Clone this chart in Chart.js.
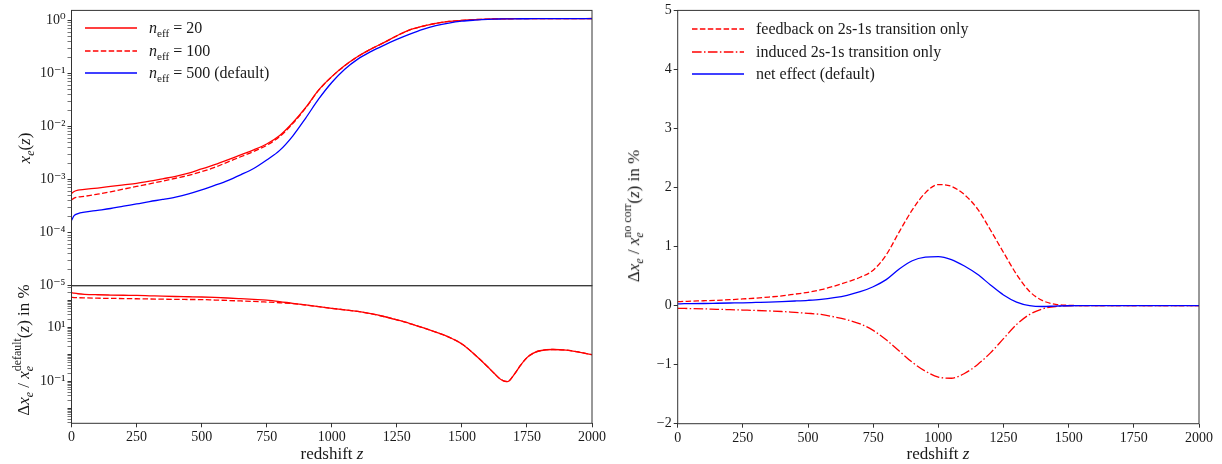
<!DOCTYPE html>
<html lang="en">
<head>
<meta charset="utf-8">
<title>Ionization fraction and 2s-1s corrections</title>
<script src="https://cdn.jsdelivr.net/npm/chart.js@4.4.1/dist/chart.umd.min.js"></script>
<style>
  body { margin: 0; background: #fff; }
  #figure { position: relative; width: 1222px; height: 464px; font-family: "Liberation Serif", "DejaVu Serif", serif; color: #1a1a1a; }
  #figure canvas { position: absolute; left: 0; top: 0; }
  .axis-title { position: absolute; font-size: 17px; line-height: 1; white-space: nowrap; }
  .axis-title.y { transform: translate(-50%, -50%) rotate(-90deg); }
  .axis-title.x { transform: translateX(-50%); }
  .legend { position: absolute; font-size: 16px; }
  .legend .row { display: flex; align-items: center; height: 22.3px; white-space: nowrap; }
  .legend svg { margin-right: 12px; flex: none; }
  sub, sup { font-size: 0.7em; line-height: 0; }
  .stk { display: inline-block; vertical-align: -0.3em; font-size: 0.7em; line-height: 1; }
  .stk span { display: block; }
</style>
</head>
<body>
<div id="figure">
  <canvas id="xe" width="1222" height="464"></canvas>
  <canvas id="dxe" width="1222" height="464"></canvas>
  <canvas id="corr" width="1222" height="464"></canvas>

  <div class="axis-title y" style="left:24px; top:148px;"><i>x<sub>e</sub></i>(<i>z</i>)</div>
  <div class="axis-title y" style="left:24px; top:350px;">Δ<i>x<sub>e</sub></i> / <i>x</i><span class="stk"><span>default</span><span><i>e</i></span></span>(<i>z</i>) in %</div>
  <div class="axis-title y" style="left:634px; top:216px;">Δ<i>x<sub>e</sub></i> / <i>x</i><span class="stk"><span>no corr</span><span><i>e</i></span></span>(<i>z</i>) in %</div>
  <div class="axis-title x" style="left:332px; top:445px;">redshift <i>z</i></div>
  <div class="axis-title x" style="left:938px; top:445px;">redshift <i>z</i></div>

  <div class="legend" style="left:85px; top:17.3px;">
    <div class="row"><svg width="52" height="6"><line x1="0" y1="3" x2="52" y2="3" stroke="#ff0000" stroke-width="1.3"/></svg><span><i>n</i><sub>eff</sub> = 20</span></div>
    <div class="row"><svg width="52" height="6"><line x1="0" y1="3" x2="52" y2="3" stroke="#ff0000" stroke-width="1.3" stroke-dasharray="5.5 2.4"/></svg><span><i>n</i><sub>eff</sub> = 100</span></div>
    <div class="row"><svg width="52" height="6"><line x1="0" y1="3" x2="52" y2="3" stroke="#0000ff" stroke-width="1.3"/></svg><span><i>n</i><sub>eff</sub> = 500 (default)</span></div>
  </div>
  <div class="legend" style="left:692px; top:18.2px;">
    <div class="row"><svg width="52" height="6"><line x1="0" y1="3" x2="52" y2="3" stroke="#ff0000" stroke-width="1.3" stroke-dasharray="5.5 2.4"/></svg><span>feedback on 2s-1s transition only</span></div>
    <div class="row"><svg width="52" height="6"><line x1="0" y1="3" x2="52" y2="3" stroke="#ff0000" stroke-width="1.3" stroke-dasharray="9.6 2.4 1.5 2.4"/></svg><span>induced 2s-1s transition only</span></div>
    <div class="row"><svg width="52" height="6"><line x1="0" y1="3" x2="52" y2="3" stroke="#0000ff" stroke-width="1.3"/></svg><span>net effect (default)</span></div>
  </div>
</div>

<script>
  // ==========================
  // DATA
  // ==========================
  const redshift = [0, 10, 25, 50, 100, 150, 200, 250, 300, 350, 400, 450, 500, 550, 600, 650, 700, 750, 800, 850,
    900, 950, 1000, 1050, 1100, 1150, 1200, 1250, 1300, 1350, 1400, 1450, 1500, 1550, 1600, 1625, 1650, 1675, 1700,
    1725, 1750, 1775, 1800, 1850, 1900, 1950, 2000];

  // top left: x_e(z)
  const xeNeff20 = [5.50e-4, 5.96e-4, 6.31e-4, 6.53e-4, 6.92e-4, 7.41e-4, 7.94e-4, 8.51e-4, 9.33e-4, 1.035e-3,
    1.148e-3, 1.318e-3, 1.585e-3, 1.905e-3, 2.344e-3, 2.92e-3, 3.63e-3, 4.68e-3, 6.76e-3, 1.175e-2, 2.29e-2,
    4.90e-2, 8.71e-2, 0.141, 0.209, 0.288, 0.380, 0.513, 0.661, 0.776, 0.881, 0.955, 1.0, 1.035, 1.059, 1.065,
    1.070, 1.073, 1.075, 1.077, 1.078, 1.079, 1.080, 1.081, 1.082, 1.083, 1.084];
  const xeNeff100 = [4.12e-4, 4.47e-4, 4.68e-4, 4.84e-4, 5.31e-4, 5.89e-4, 6.61e-4, 7.41e-4, 8.32e-4, 9.33e-4,
    1.059e-3, 1.202e-3, 1.413e-3, 1.698e-3, 2.138e-3, 2.69e-3, 3.39e-3, 4.42e-3, 6.46e-3, 1.135e-2, 2.24e-2,
    4.84e-2, 8.65e-2, 0.140, 0.208, 0.287, 0.379, 0.512, 0.660, 0.775, 0.880, 0.954, 0.999, 1.034, 1.058, 1.064,
    1.069, 1.072, 1.074, 1.076, 1.077, 1.078, 1.079, 1.080, 1.081, 1.082, 1.083];
  const xeDefault = [1.70e-4, 2.09e-4, 2.29e-4, 2.43e-4, 2.63e-4, 2.85e-4, 3.16e-4, 3.47e-4, 3.85e-4, 4.22e-4,
    4.68e-4, 5.37e-4, 6.38e-4, 7.76e-4, 9.55e-4, 1.23e-3, 1.62e-3, 2.34e-3, 3.55e-3, 6.61e-3, 1.445e-2,
    3.31e-2, 6.76e-2, 0.120, 0.186, 0.257, 0.339, 0.437, 0.550, 0.676, 0.794, 0.891, 0.966, 1.012, 1.047, 1.057,
    1.063, 1.067, 1.070, 1.072, 1.074, 1.075, 1.076, 1.078, 1.079, 1.080, 1.080];

  // bottom left: relative difference to default, in %
  const dxNeff20 = [198, 190, 181, 173, 166, 162, 159, 157, 152, 147, 143, 140, 137, 132, 126, 119, 112, 105, 93, 80,
    70, 60, 52, 46, 40, 33, 26, 19.5, 14.3, 10, 6.8, 4.5, 2.5, 1.0, 0.35, 0.2, 0.12, 0.10, 0.18, 0.40, 0.78, 1.15,
    1.40, 1.56, 1.48, 1.25, 1.0];
  const dxNeff100 = [134, 131, 129, 127, 124, 122, 120, 118, 116, 114, 112, 111, 110, 106, 102, 98, 94, 89, 84, 78,
    69, 60, 52, 46, 40, 33, 26, 19.5, 14.3, 10, 6.8, 4.5, 2.5, 1.0, 0.35, 0.2, 0.12, 0.10, 0.18, 0.40, 0.78, 1.15,
    1.40, 1.56, 1.48, 1.25, 1.0];

  // right: correction relative to no correction, in %
  const feedbackOnly = [0.068, 0.069, 0.071, 0.075, 0.082, 0.090, 0.100, 0.113, 0.127, 0.145, 0.165, 0.195, 0.225,
    0.27, 0.33, 0.40, 0.48, 0.60, 0.86, 1.25, 1.62, 1.91, 2.05, 2.02, 1.88, 1.64, 1.28, 0.90, 0.53, 0.24, 0.085,
    0.022, 0.005, 0, 0, 0, 0, 0, 0, 0, 0, 0, 0, 0, 0, 0, 0];
  const inducedOnly = [-0.045, -0.046, -0.048, -0.050, -0.055, -0.062, -0.068, -0.075, -0.082, -0.090, -0.100,
    -0.115, -0.130, -0.150, -0.190, -0.240, -0.310, -0.420, -0.580, -0.770, -0.960, -1.110, -1.210, -1.230, -1.150,
    -1.000, -0.800, -0.560, -0.320, -0.150, -0.055, -0.015, -0.003, 0, 0, 0, 0, 0, 0, 0, 0, 0, 0, 0, 0, 0, 0];
  const netEffect = [0.030, 0.031, 0.032, 0.033, 0.036, 0.040, 0.044, 0.048, 0.054, 0.060, 0.068, 0.078, 0.090,
    0.107, 0.135, 0.175, 0.235, 0.320, 0.440, 0.620, 0.760, 0.820, 0.830, 0.780, 0.670, 0.530, 0.350, 0.180, 0.060,
    0.000, -0.015, -0.008, -0.002, 0, 0, 0, 0, 0, 0, 0, 0, 0, 0, 0, 0, 0, 0];

  // tick labels
  const zTicks = [0, 250, 500, 750, 1000, 1250, 1500, 1750, 2000];
  const xeDecades = [-5, -4, -3, -2, -1, 0];
  const dxDecades = [-3, -2, -1, 0, 1, 2];
  const dxLabelledDecades = [-1, 1];
  const corrTicks = [-2, -1, 0, 1, 2, 3, 4, 5];

  // ==========================
  // LAYOUT + STYLE
  // ==========================
  const W = 1222, H = 464;
  const Y_AXIS_W = 60, X_AXIS_H = 40;
  const leftPanel = { left: 71.5, right: 592, top: 9.3, mid: 285.7, bottom: 423.3 };
  const rightPanel = { left: 677.7, right: 1199, top: 9.3, bottom: 423.7 };
  const RED = "#ff0000", BLUE = "#0000ff";
  const DASHED = [5.5, 2.4], DASHDOT = [9.6, 2.4, 1.5, 2.4];

  Chart.defaults.font.family = '"Liberation Serif", "DejaVu Serif", serif';
  Chart.defaults.font.size = 14;
  Chart.defaults.color = "#1a1a1a";

  const SUP = { "-": "\u207B", "0": "\u2070", "1": "\u00B9", "2": "\u00B2", "3": "\u00B3", "4": "\u2074",
    "5": "\u2075", "6": "\u2076", "7": "\u2077", "8": "\u2078", "9": "\u2079" };

  function decadeOf(v) {
    const e = Math.log10(v);
    return Math.abs(e - Math.round(e)) < 1e-6 ? Math.round(e) : null;
  }

  function pow10Label(e) {
    return "10" + String(e).split("").map((c) => SUP[c]).join("");
  }

  // major + minor ticks of a log axis, inside [min, max]
  function logTicks(decades, min, max) {
    const out = [];
    decades.forEach((d) => {
      for (let m = 1; m < 10; m++) {
        const v = m * Math.pow(10, d);
        if (v >= min * 0.9999 && v <= max * 1.0001) out.push({ value: v });
      }
    });
    return out;
  }

  function series(values) {
    return redshift.map((z, i) => ({ x: z, y: values[i] }));
  }

  function line(label, values, color, dash, order) {
    return {
      label: label,
      data: series(values),
      borderColor: color,
      borderWidth: 1.3,
      borderDash: dash || [],
      pointRadius: 0,
      fill: false,
      cubicInterpolationMode: "monotone",
      order: order,
    };
  }

  const tickGrid = {
    drawOnChartArea: false,
    drawTicks: true,
    tickLength: 4,
    tickWidth: 1,
    tickColor: "#333",
  };

  // spines on all four sides, like the original figure
  const frame = {
    id: "frame",
    afterDraw(chart) {
      const { ctx, chartArea: a } = chart;
      ctx.save();
      ctx.strokeStyle = "#333";
      ctx.lineWidth = 1;
      ctx.strokeRect(a.left, a.top, a.right - a.left, a.bottom - a.top);
      ctx.restore();
    },
  };

  function zAxis(show) {
    const axis = {
      type: "linear",
      min: 0,
      max: 2000,
      display: show,
      border: { display: false },
      grid: tickGrid,
      afterBuildTicks: (a) => { a.ticks = zTicks.map((v) => ({ value: v })); },
      ticks: { autoSkip: false, maxRotation: 0, padding: 2, callback: (v) => String(v) },
    };
    // a hidden axis must not reserve any height
    axis.afterFit = (a) => { a.height = show ? X_AXIS_H : 0; };
    return axis;
  }

  function baseOptions(padding, scales) {
    return {
      responsive: false,
      animation: false,
      layout: { padding: padding },
      plugins: { legend: { display: false }, tooltip: { enabled: false } },
      scales: scales,
    };
  }

  function logMinorColor(ctx) {
    return ctx.tick && decadeOf(ctx.tick.value) !== null ? "#333" : "#777";
  }

  // ==========================
  // TOP LEFT: x_e(z)
  // ==========================
  const xeMin = 1e-5, xeMax = Math.pow(10, 0.188);
  new Chart(document.getElementById("xe"), {
    type: "line",
    data: {
      datasets: [
        line("n_eff = 20", xeNeff20, RED, null, 2),
        line("n_eff = 100", xeNeff100, RED, DASHED, 1),
        line("n_eff = 500 (default)", xeDefault, BLUE, null, 0),
      ],
    },
    options: baseOptions(
      { left: leftPanel.left - Y_AXIS_W, right: W - leftPanel.right, top: leftPanel.top, bottom: H - leftPanel.mid },
      {
        x: zAxis(false),
        y: {
          type: "logarithmic",
          min: xeMin,
          max: xeMax,
          border: { display: false },
          grid: Object.assign({}, tickGrid, { tickColor: logMinorColor }),
          afterBuildTicks: (axis) => { axis.ticks = logTicks(xeDecades, xeMin, xeMax); },
          afterFit: (axis) => { axis.width = Y_AXIS_W; },
          ticks: {
            autoSkip: false,
            padding: 2,
            callback: (v) => { const e = decadeOf(v); return e === null ? "" : pow10Label(e); },
          },
        },
      }
    ),
    plugins: [frame],
  });

  // ==========================
  // BOTTOM LEFT: relative difference
  // ==========================
  const dxMin = Math.pow(10, -2.541), dxMax = Math.pow(10, 2.556);
  new Chart(document.getElementById("dxe"), {
    type: "line",
    data: {
      datasets: [
        line("n_eff = 20", dxNeff20, RED, null, 0),
        line("n_eff = 100", dxNeff100, RED, DASHED, 1),
      ],
    },
    options: baseOptions(
      { left: leftPanel.left - Y_AXIS_W, right: W - leftPanel.right, top: leftPanel.mid, bottom: H - leftPanel.bottom - X_AXIS_H },
      {
        x: zAxis(true),
        y: {
          type: "logarithmic",
          min: dxMin,
          max: dxMax,
          border: { display: false },
          grid: Object.assign({}, tickGrid, { tickColor: logMinorColor }),
          afterBuildTicks: (axis) => { axis.ticks = logTicks(dxDecades, dxMin, dxMax); },
          afterFit: (axis) => { axis.width = Y_AXIS_W; },
          ticks: {
            autoSkip: false,
            padding: 2,
            callback: (v) => {
              const e = decadeOf(v);
              return e !== null && dxLabelledDecades.includes(e) ? pow10Label(e) : "";
            },
          },
        },
      }
    ),
    plugins: [frame],
  });

  // ==========================
  // RIGHT: 2s-1s corrections
  // ==========================
  new Chart(document.getElementById("corr"), {
    type: "line",
    data: {
      datasets: [
        line("feedback on 2s-1s transition only", feedbackOnly, RED, DASHED, 2),
        line("induced 2s-1s transition only", inducedOnly, RED, DASHDOT, 1),
        line("net effect (default)", netEffect, BLUE, null, 0),
      ],
    },
    options: baseOptions(
      { left: rightPanel.left - Y_AXIS_W, right: W - rightPanel.right, top: rightPanel.top, bottom: H - rightPanel.bottom - X_AXIS_H },
      {
        x: zAxis(true),
        y: {
          type: "linear",
          min: -2,
          max: 5,
          border: { display: false },
          grid: tickGrid,
          afterBuildTicks: (axis) => { axis.ticks = corrTicks.map((v) => ({ value: v })); },
          afterFit: (axis) => { axis.width = Y_AXIS_W; },
          ticks: {
            autoSkip: false,
            padding: 2,
            callback: (v) => (v < 0 ? "\u2212" + Math.abs(v) : String(v)),
          },
        },
      }
    ),
    plugins: [frame],
  });
</script>
</body>
</html>
